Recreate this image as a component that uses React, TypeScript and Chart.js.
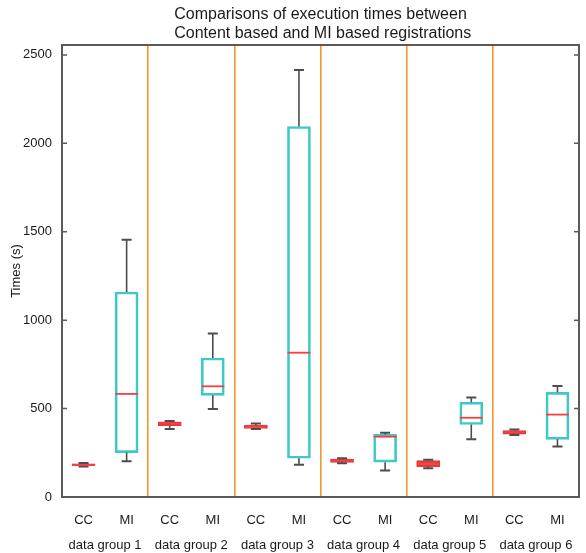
import React, { useEffect, useRef } from 'react';
import { Chart, registerables } from 'chart.js';

Chart.register(...registerables);

const categories = ['CC', 'MI', 'CC', 'MI', 'CC', 'MI', 'CC', 'MI', 'CC', 'MI', 'CC', 'MI'];
const groupLabels = ['data group 1', 'data group 2', 'data group 3', 'data group 4', 'data group 5', 'data group 6'];
const whiskerLow = [172, 202, 385, 498, 384, 182, 191, 150, 163, 326, 350, 285];
const q1 = [177, 251, 403, 575, 388, 219, 195, 197, 172, 410, 356, 326];
const medians = [182, 583, 416, 626, 397, 816, 206, 341, 187, 448, 367, 466];
const q3 = [187, 1159, 425, 786, 406, 2095, 215, 354, 206, 536, 376, 592];
const whiskerHigh = [192, 1455, 430, 924, 416, 2415, 219, 363, 210, 562, 382, 627];
const yTickValues = [0, 500, 1000, 1500, 2000, 2500];
const titleLines = ['Comparisons of execution times between', ' Content based and MI based registrations'];
const yTitle = 'Times (s)';
const yMax = 2556;

const FONT = '"Liberation Sans", Arial, sans-serif';
const ORANGE = 'rgb(240,150,50)';

const extrasPlugin = {
  id: 'boxExtras',
  afterDatasetsDraw(chart: any) {
    const { ctx, scales } = chart;
    const x = scales.x;
    const y = scales.y;
    const meta = chart.getDatasetMeta(0);
    ctx.save();
    categories.forEach((_, i) => {
      const cx = x.getPixelForValue(i);
      const el = meta.data[i];
      const half = el ? el.width / 2 : 11;
      const capHalf = 5;
      ctx.strokeStyle = '#4d4d4d';
      ctx.lineWidth = 1.6;
      const yq3 = y.getPixelForValue(q3[i]);
      const yq1 = y.getPixelForValue(q1[i]);
      const yHi = y.getPixelForValue(whiskerHigh[i]);
      const yLo = y.getPixelForValue(whiskerLow[i]);
      ctx.beginPath();
      ctx.moveTo(cx, yq3);
      ctx.lineTo(cx, yHi);
      ctx.moveTo(cx, yq1);
      ctx.lineTo(cx, yLo);
      ctx.stroke();
      ctx.lineWidth = 2;
      ctx.beginPath();
      ctx.moveTo(cx - capHalf, yHi);
      ctx.lineTo(cx + capHalf, yHi);
      ctx.moveTo(cx - capHalf, yLo);
      ctx.lineTo(cx + capHalf, yLo);
      ctx.stroke();
      const ym = y.getPixelForValue(medians[i]);
      ctx.strokeStyle = '#ff3c3c';
      ctx.lineWidth = 1.8;
      ctx.beginPath();
      ctx.moveTo(cx - half, ym);
      ctx.lineTo(cx + half, ym);
      ctx.stroke();
    });
    ctx.restore();
  },
  afterDraw(chart: any) {
    const { ctx, chartArea, scales } = chart;
    const y = scales.y;
    ctx.save();
    ctx.strokeStyle = '#5a5a5a';
    ctx.lineWidth = 2;
    ctx.strokeRect(chartArea.left, chartArea.top, chartArea.right - chartArea.left, chartArea.bottom - chartArea.top);
    ctx.lineWidth = 1.5;
    ctx.beginPath();
    y.ticks.forEach((t: any) => {
      const py = y.getPixelForValue(t.value);
      ctx.moveTo(chartArea.left, py);
      ctx.lineTo(chartArea.left + 5, py);
      ctx.moveTo(chartArea.right, py);
      ctx.lineTo(chartArea.right - 5, py);
    });
    ctx.stroke();
    ctx.fillStyle = '#1a1a1a';
    ctx.font = `16px ${FONT}`;
    ctx.textAlign = 'center';
    ctx.textBaseline = 'middle';
    const cx = (chartArea.left + chartArea.right) / 2;
    ctx.fillText(titleLines[0], cx, 15);
    ctx.fillText(titleLines[1], cx, 34);
    ctx.restore();
  },
};

export default function App() {
  const ref = useRef<HTMLCanvasElement>(null);
  useEffect(() => {
    if (!ref.current) return;
    const chart = new Chart(ref.current, {
      type: 'bar',
      data: {
        labels: categories,
        datasets: [
          {
            data: categories.map((_, i) => [q1[i], q3[i]]) as any,
            backgroundColor: categories.map((c) => (c === 'CC' ? 'rgba(235,80,80,0.45)' : 'rgba(255,255,255,0)')),
            borderColor: categories.map((c) => (c === 'CC' ? '#e03a3a' : '#3ec9c9')),
            borderWidth: 2,
            borderSkipped: false,
            barThickness: 23,
          },
        ],
      },
      options: {
        animation: false,
        responsive: false,
        layout: { padding: { top: 45, left: 0, right: 7, bottom: 0 } },
        plugins: { legend: { display: false }, tooltip: { enabled: false }, title: { display: false } },
        scales: {
          x: {
            type: 'category',
            position: 'bottom',
            weight: 0,
            grid: { display: false },
            border: { display: false },
            ticks: { color: '#1a1a1a', font: { family: FONT, size: 13 }, padding: 8 },
            afterFit: (s: any) => { s.height = 28; },
          },
          x2: {
            type: 'category',
            position: 'bottom',
            weight: 1,
            labels: groupLabels,
            offset: true,
            grid: {
              display: true,
              drawOnChartArea: true,
              drawTicks: false,
              offset: true,
              lineWidth: 1.6,
              color: (c: any) => (c.index > 0 && c.index < groupLabels.length ? ORANGE : 'rgba(0,0,0,0)'),
            },
            border: { display: false },
            ticks: { color: '#1a1a1a', font: { family: FONT, size: 13 }, padding: 13 },
            afterFit: (s: any) => { s.height = 28; },
          },
          y: {
            type: 'linear',
            min: 0,
            max: yMax,
            grid: { display: false, drawTicks: false },
            border: { display: false },
            afterBuildTicks: (s: any) => { s.ticks = yTickValues.map((v) => ({ value: v })); },
            ticks: { color: '#1a1a1a', font: { family: FONT, size: 13 }, padding: 10, callback: (v: any) => String(v) },
            title: { display: true, text: yTitle, color: '#1a1a1a', font: { family: FONT, size: 13 }, padding: { top: 9, bottom: 0 } },
            afterFit: (s: any) => { s.width = 62; },
          },
        },
      },
      plugins: [extrasPlugin],
    });
    return () => chart.destroy();
  }, []);
  return (
    <div style={{ position: 'fixed', left: 0, top: 0, width: 586, height: 553, background: '#fff' }}>
      <canvas ref={ref} width={586} height={553} />
    </div>
  );
}
